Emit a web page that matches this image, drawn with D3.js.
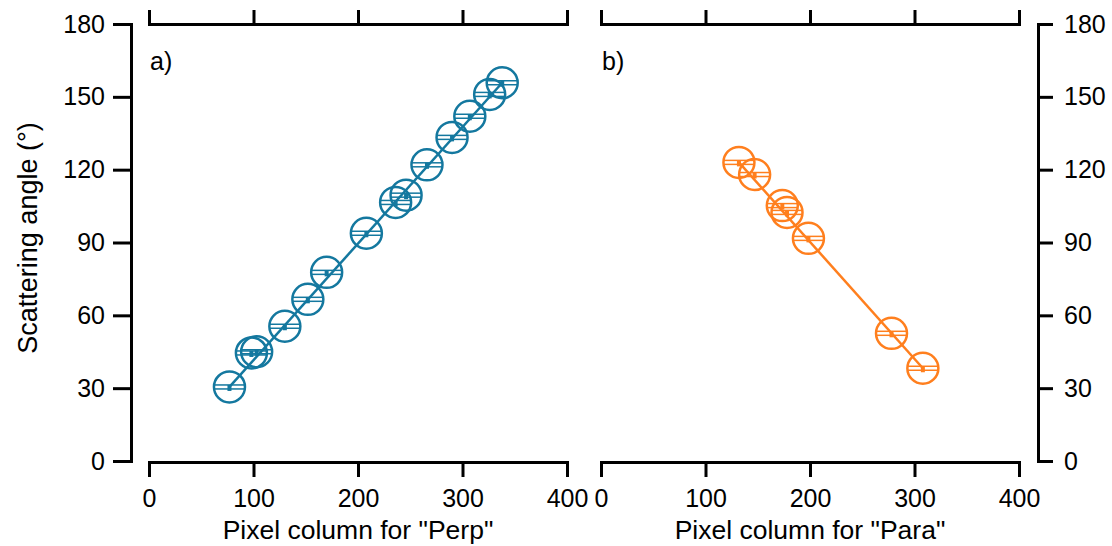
<!DOCTYPE html>
<html lang="en">
<head>
  <meta charset="UTF-8">
  <title>Scattering angle vs pixel column</title>
  <script src="https://d3js.org/d3.v7.min.js"></script>
  <style>
    body, html { margin: 0; background: #fff; }
    svg text { font-family: "Liberation Sans", Arial, sans-serif; fill: #000; }
  </style>
</head>
<body>
  <svg width="1112" height="546"></svg>
  <script>
    // data
    const perpX = [77, 98, 103, 130, 152, 170, 208, 236, 246, 266, 290, 307, 326, 338];
    const perpY = [30.5, 44.5, 45, 55.5, 66.6, 77.7, 93.8, 106.5, 109.5, 122, 133.3, 142, 151, 155.8];
    const paraX = [132, 147, 173.5, 178, 198.5, 278, 308];
    const paraY = [123, 118, 105.2, 102.4, 91.7, 52.6, 38.2];
    // fitted lines (end points)
    const perpFitX = [77, 338], perpFitY = [30.5, 155.8];
    const paraFitX = [132, 308], paraFitY = [123, 38.2];
    const xTicks = [0, 100, 200, 300, 400];
    const yTicks = [0, 30, 60, 90, 120, 150, 180];

    const svg = d3.select("svg");
    const axisTopY = 24, axisBottomY = 462;
    const y = d3.scaleLinear().domain([0, 180]).range([461, 24]);

    const blue = "#14789f", orange = "#ff7f1e";
    const tickFont = "25px", titleFont = "26.5px";

    function panel(x0, x1, xs, ys, fx, fy, color, label, title) {
      const x = d3.scaleLinear().domain([0, 400]).range([x0, x1]);
      const g = svg.append("g");

      const ax = g.append("g").attr("transform", `translate(0,${axisBottomY})`)
        .call(d3.axisBottom(x).tickValues(xTicks).tickSize(15).tickSizeOuter(0).tickPadding(12));
      const at = g.append("g").attr("transform", `translate(0,${axisTopY})`)
        .call(d3.axisTop(x).tickValues(xTicks).tickSize(14).tickSizeOuter(0).tickFormat(""));
      [ax, at].forEach(a => {
        a.select(".domain").attr("stroke-width", 3).attr("stroke-linecap", "square");
        a.selectAll(".tick line").attr("stroke-width", 3);
        a.selectAll("text").style("font-size", tickFont);
      });

      g.append("text")
        .attr("x", (x0 + x1) / 2).attr("y", 539)
        .attr("text-anchor", "middle").style("font-size", titleFont)
        .text(title);

      g.append("text")
        .attr("x", x0 + 1).attr("y", 70)
        .style("font-size", "25px")
        .text(label);

      // fit line
      g.append("line")
        .attr("x1", x(fx[0])).attr("y1", y(fy[0]))
        .attr("x2", x(fx[1])).attr("y2", y(fy[1]))
        .attr("stroke", color).attr("stroke-width", 2.5);

      const pts = g.selectAll(".pt").data(xs.map((v, i) => [v, ys[i]]))
        .enter().append("g")
        .attr("transform", d => `translate(${x(d[0])},${y(d[1])})`);
      const r = 15.5;
      pts.append("circle").attr("r", r)
        .attr("fill", "none").attr("stroke", color).attr("stroke-width", 2.5);
      [-2, 2].forEach(dy => {
        pts.append("line")
          .attr("x1", -r).attr("x2", r).attr("y1", dy).attr("y2", dy)
          .attr("stroke", color).attr("stroke-width", 1.5);
      });
      pts.append("rect").attr("x", -2).attr("y", -2).attr("width", 4).attr("height", 6)
        .attr("fill", color);
      return x;
    }

    panel(149, 567, perpX, perpY, perpFitX, perpFitY, blue, "a)", 'Pixel column for "Perp"');
    panel(601, 1019, paraX, paraY, paraFitX, paraFitY, orange, "b)", 'Pixel column for "Para"');

    // y axes
    const yl = svg.append("g").attr("transform", "translate(131,0)")
      .call(d3.axisLeft(y).tickValues(yTicks).tickSize(18).tickSizeOuter(0).tickPadding(8));
    const yr = svg.append("g").attr("transform", "translate(1038,0)")
      .call(d3.axisRight(y).tickValues(yTicks).tickSize(15).tickSizeOuter(0).tickPadding(11));
    [yl, yr].forEach(a => {
      a.select(".domain").attr("stroke-width", 3).attr("stroke-linecap", "square");
      a.selectAll(".tick line").attr("stroke-width", 3);
      a.selectAll("text").style("font-size", tickFont);
    });

    svg.append("text")
      .attr("transform", "translate(37,238) rotate(-90)")
      .attr("text-anchor", "middle").style("font-size", "27px")
      .text("Scattering angle (°)");
  </script>
</body>
</html>
